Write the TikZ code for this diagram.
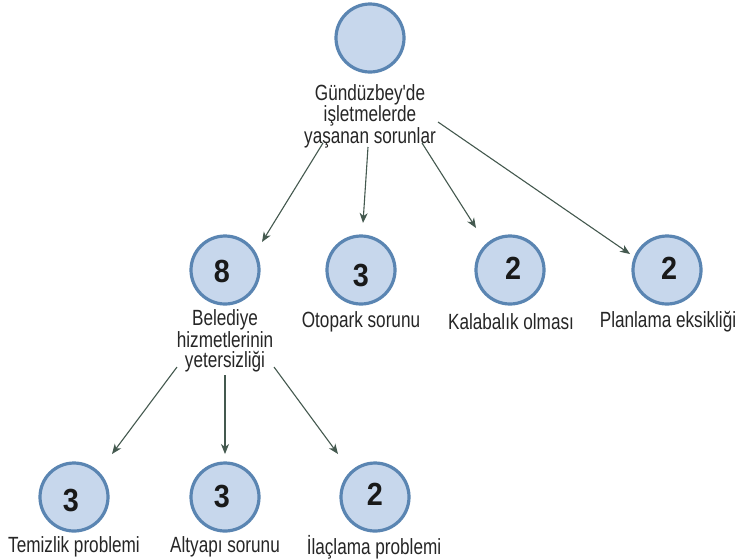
\documentclass[tikz,border=0pt]{standalone}
\usepackage{fontspec}
\setmainfont{Liberation Sans}
\newfontfamily\lblfont{Liberation Sans}[FakeStretch=0.78]
\newfontfamily\numfont{Liberation Sans}[FakeStretch=0.9]
\usetikzlibrary{arrows.meta,calc}
\definecolor{ringblue}{HTML}{5A85B2}
\definecolor{discfill}{HTML}{C7D7EC}
\definecolor{arrowgray}{HTML}{44594F}
\begin{document}
\begin{tikzpicture}[x=1pt,y=-1pt,
  disc/.style={circle, draw=ringblue, fill=discfill, line width=3.2pt,
               minimum size=68pt, inner sep=0pt},
  num/.style={font=\numfont\fontsize{32}{34}\selectfont\bfseries,
              text=black!90, inner sep=0pt},
  lbl/.style={align=center, font=\lblfont\fontsize{22}{20}\selectfont,
              text=black!85, inner sep=0pt},
  arr/.style={draw=arrowgray, line width=1.1pt,
              -{Stealth[length=10pt,width=8pt,inset=3pt]}}]
% page frame
\fill[white] (0,0) rectangle (735,558);
\useasboundingbox (0,0) rectangle (735,558);

% root
\node[disc] (root) at (370,38) {};
\node[lbl] (rootl) at (370,116) {Gündüzbey'de\\işletmelerde\\yaşanan sorunlar};

% second level
\node[disc] (cbel) at (225,270) {};
\node[disc] (coto) at (361,270) {};
\node[disc] (ckal) at (510,270) {};
\node[disc] (cpla) at (667,270) {};
\node[num] (nbel) at ($(cbel)+(-3,1)$) {8};
\node[num] (noto) at ($(coto)+(0,5)$) {3};
\node[num] (nkal) at ($(ckal)+(3,-2)$) {2};
\node[num] (npla) at ($(cpla)+(2,-2)$) {2};
\node[lbl] (lbel) at (225,341) {Belediye\\hizmetlerinin\\yetersizliği};
\node[lbl] (loto) at (361,322) {Otopark sorunu};
\node[lbl] (lkal) at (511,322) {Kalabalık olması};
\node[lbl] (lpla) at (668,322) {Planlama eksikliği};

% third level
\node[disc] (ctem) at (74,497) {};
\node[disc] (calt) at (225,497) {};
\node[disc] (cila) at (375,497) {};
\node[num] (ntem) at ($(ctem)+(-3,3)$) {3};
\node[num] (nalt) at ($(calt)+(-3,-1)$) {3};
\node[num] (nila) at ($(cila)+(0,-3)$) {2};
\node[lbl] (ltem) at (74,547) {Temizlik problemi};
\node[lbl] (lalt) at (225,547) {Altyapı sorunu};
\node[lbl] (lila) at (374,547) {İlaçlama problemi};

% connectors from the root label
\draw[arr] ($(rootl)+(-47,27)$) -- ($(cbel)+(37,-28)$);
\draw[arr] ($(rootl)+(-2,31)$)  -- ($(coto)+(2,-47)$);
\draw[arr] ($(rootl)+(52,27)$)  -- ($(ckal)+(-34,-42)$);
\draw[arr] ($(rootl)+(68,6)$)   -- ($(cpla)+(-37,-16)$);

% connectors from the municipal-services label
\draw[arr] ($(lbel)+(-48,26)$) -- ($(ctem)+(38,-43)$);
\draw[arr] ($(lbel)+(0,34)$)   -- ($(calt)+(0,-43)$);
\draw[arr] ($(lbel)+(49,26)$)  -- ($(cila)+(-37,-43)$);
\end{tikzpicture}
\end{document}
